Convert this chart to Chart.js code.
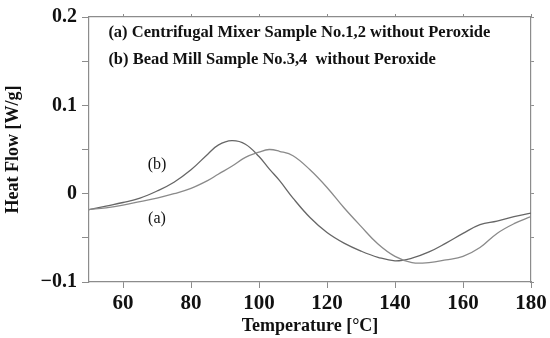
<!DOCTYPE html>
<html>
<head>
<meta charset="utf-8">
<script src="https://cdn.jsdelivr.net/npm/chart.js"></script>
<style>
  body { margin: 0; background: #fff; }
  #wrap { width: 550px; height: 338px; }
</style>
</head>
<body>
<div id="wrap"><canvas id="dscChart"></canvas></div>
<script>
// DSC curves
const temps = [50, 55, 60, 65, 70, 75, 80, 85, 88, 92, 96, 100, 103, 106, 110, 115, 120, 125, 130, 135, 140, 145, 150, 155, 160, 165, 170, 175, 180];
const flowA = [-0.018, -0.016, -0.013, -0.009, -0.005, 0.000, 0.006, 0.015, 0.022, 0.031, 0.041, 0.047, 0.050, 0.048, 0.043, 0.027, 0.007, -0.016, -0.037, -0.057, -0.071, -0.078, -0.078, -0.075, -0.071, -0.061, -0.045, -0.034, -0.026];
const flowB = [-0.018, -0.014, -0.010, -0.005, 0.003, 0.013, 0.027, 0.045, 0.055, 0.060, 0.056, 0.042, 0.028, 0.015, -0.005, -0.027, -0.044, -0.056, -0.065, -0.072, -0.076, -0.073, -0.066, -0.056, -0.045, -0.035, -0.031, -0.026, -0.022];

const xTickValues = [60, 80, 100, 120, 140, 160, 180];
const yTickValues = [-0.1, -0.05, 0, 0.05, 0.1, 0.15, 0.2];
const yTickLabels = ['\u22120.1', '', '0', '', '0.1', '', '0.2'];

const legendLines = ['(a) Centrifugal Mixer Sample No.1,2 without Peroxide', '(b) Bead Mill Sample No.3,4  without Peroxide'];
const curveLabels = ['(a)', '(b)'];

const axisGray = '#8c8c8c';
const serif = '"Liberation Serif", "Times New Roman", serif';

function toPoints(xs, ys) {
    return xs.map((x, i) => ({ x: x, y: ys[i] }));
}

// texte dans le graphique (légende et étiquettes des courbes)
const textPlugin = {
    id: 'textPlugin',
    afterDatasetsDraw(chart) {
        const ctx = chart.ctx;
        const xs = chart.scales.x;
        const ys = chart.scales.y;
        ctx.save();
        ctx.fillStyle = '#111';
        ctx.textBaseline = 'alphabetic';
        ctx.textAlign = 'left';
        ctx.font = 'bold 16.5px ' + serif;
        ctx.fillText(legendLines[0], xs.getPixelForValue(55.7), ys.getPixelForValue(0.177));
        ctx.fillText(legendLines[1], xs.getPixelForValue(55.7), ys.getPixelForValue(0.1465));
        ctx.font = '16px ' + serif;
        ctx.textAlign = 'center';
        ctx.textBaseline = 'middle';
        ctx.fillText(curveLabels[0], xs.getPixelForValue(70), ys.getPixelForValue(-0.029));
        ctx.fillText(curveLabels[1], xs.getPixelForValue(70), ys.getPixelForValue(0.033));
        ctx.restore();
    }
};

new Chart(document.getElementById('dscChart'), {
    type: 'line',
    data: {
        datasets: [
            {
                label: '(a)',
                data: toPoints(temps, flowA),
                borderColor: '#8a8a8a',
                borderWidth: 1.3,
                pointRadius: 0,
                tension: 0.4,
                xAxisID: 'x',
                yAxisID: 'y'
            },
            {
                label: '(b)',
                data: toPoints(temps, flowB),
                borderColor: '#666666',
                borderWidth: 1.3,
                pointRadius: 0,
                tension: 0.4,
                xAxisID: 'x',
                yAxisID: 'y'
            }
        ]
    },
    options: {
        responsive: true,
        maintainAspectRatio: false,
        animation: false,
        layout: { padding: 0 },
        plugins: {
            legend: { display: false },
            tooltip: { enabled: false }
        },
        scales: {
            x: {
                type: 'linear',
                position: 'bottom',
                min: 50,
                max: 180,
                afterBuildTicks: s => { s.ticks = xTickValues.map(v => ({ value: v })); },
                afterFit: s => { s.height = 56; },
                grid: { drawOnChartArea: false, color: axisGray, tickLength: 6 },
                border: { color: axisGray, width: 1.2 },
                ticks: {
                    color: '#111',
                    padding: 3,
                    maxRotation: 0,
                    font: { family: serif, size: 21, weight: 'bold' }
                },
                title: {
                    display: true,
                    text: 'Temperature [°C]',
                    color: '#111',
                    padding: { top: 0, bottom: 1 },
                    font: { family: serif, size: 18, weight: 'bold' }
                }
            },
            y: {
                type: 'linear',
                position: 'left',
                min: -0.1,
                max: 0.2,
                afterBuildTicks: s => { s.ticks = yTickValues.map(v => ({ value: v })); },
                afterFit: s => { s.width = 89; },
                grid: { drawOnChartArea: false, color: axisGray, tickLength: 7 },
                border: { color: axisGray, width: 1.2 },
                ticks: {
                    color: '#111',
                    padding: 5,
                    font: { family: serif, size: 20, weight: 'bold' },
                    callback: (v, i) => yTickLabels[i]
                },
                title: {
                    display: true,
                    text: 'Heat Flow [W/g]',
                    color: '#111',
                    padding: { top: 3, bottom: 0 },
                    font: { family: serif, size: 18, weight: 'bold' }
                }
            },
            x2: {
                type: 'linear',
                position: 'top',
                min: 50,
                max: 180,
                afterBuildTicks: s => { s.ticks = xTickValues.map(v => ({ value: v })); },
                afterFit: s => { s.height = 15; },
                grid: { drawOnChartArea: false, color: axisGray, tickLength: 3 },
                border: { color: axisGray, width: 1.2 },
                ticks: { display: false }
            },
            y2: {
                type: 'linear',
                position: 'right',
                min: -0.1,
                max: 0.2,
                afterBuildTicks: s => { s.ticks = yTickValues.map(v => ({ value: v })); },
                afterFit: s => { s.width = 19; },
                grid: { drawOnChartArea: false, color: axisGray, tickLength: 3 },
                border: { color: axisGray, width: 1.2 },
                ticks: { display: false }
            }
        }
    },
    plugins: [textPlugin]
});
</script>
</body>
</html>
